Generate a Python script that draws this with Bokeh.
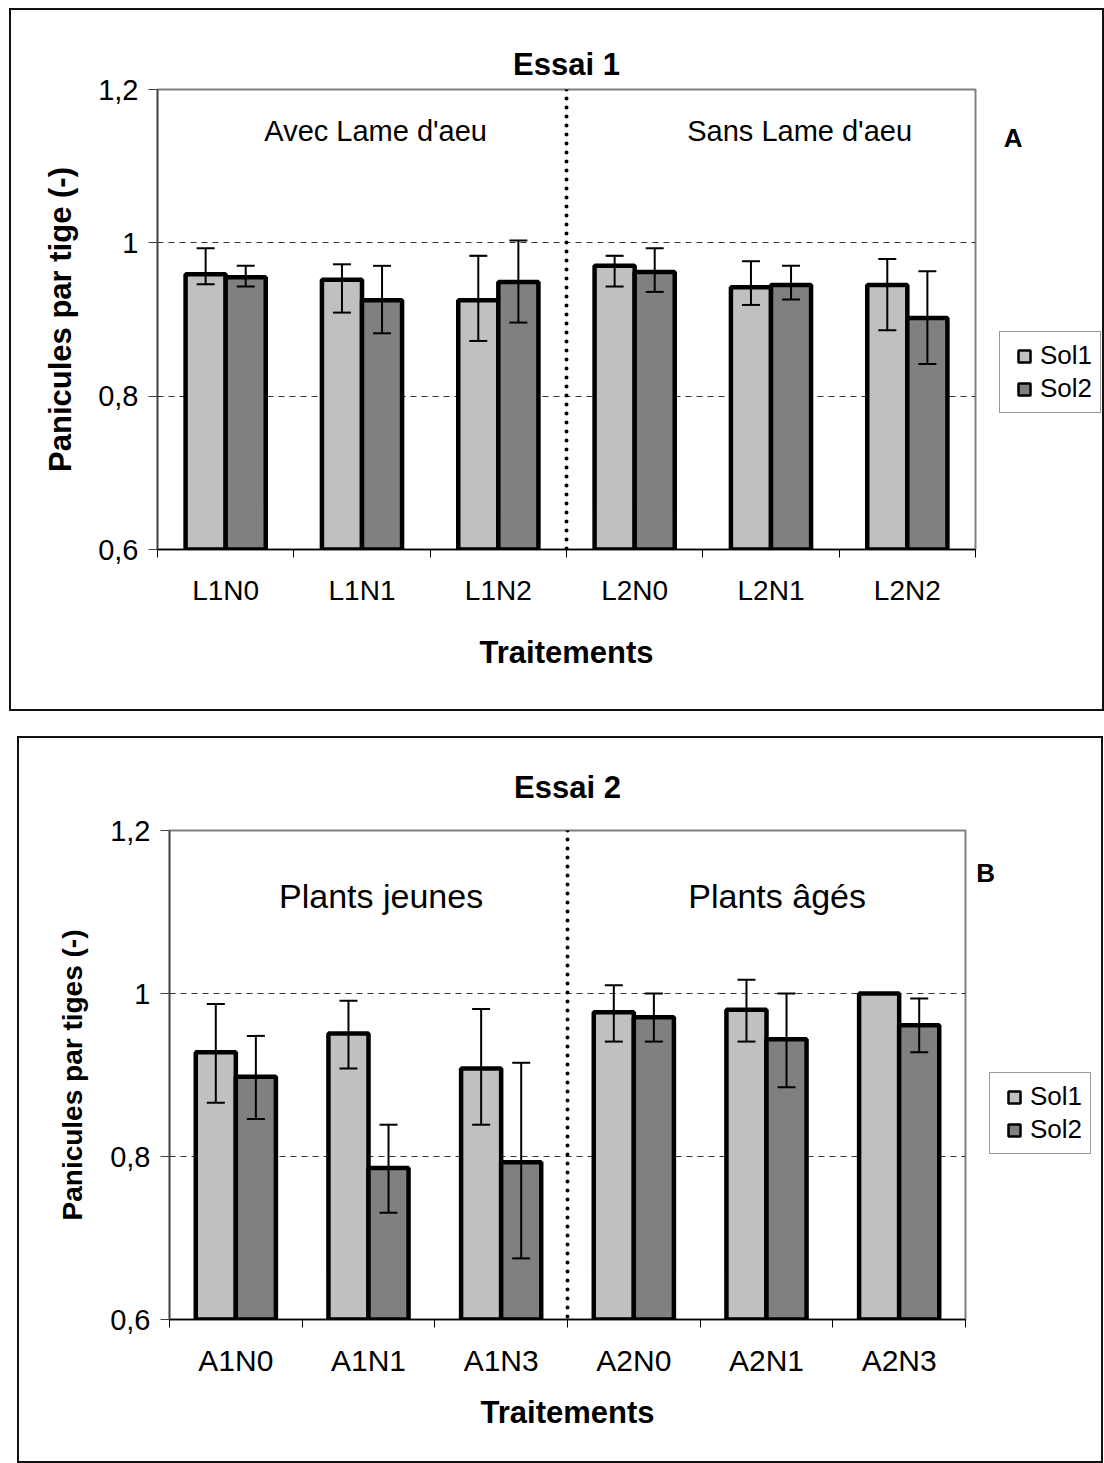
from bokeh.plotting import figure
from bokeh.models import (Range1d, FixedTicker, Whisker, TeeHead, ColumnDataSource,
                          Span, Label, Legend, LegendItem)
from bokeh.layouts import column, row
from bokeh.embed import file_html
from bokeh.resources import INLINE

FONT = "Liberation Sans"

# ---------------- data ----------------
y_ticks = [0.6, 0.8, 1.0, 1.2]
y_tick_labels = ["0,6", "0,8", "1", "1,2"]
series_names = ["Sol1", "Sol2"]

cats_A = ["L1N0", "L1N1", "L1N2", "L2N0", "L2N1", "L2N2"]
sol1_A = [0.959, 0.952, 0.925, 0.970, 0.942, 0.945]
sol1_A_hi = [0.993, 0.972, 0.983, 0.983, 0.976, 0.979]
sol1_A_lo = [0.946, 0.909, 0.872, 0.943, 0.919, 0.886]
sol2_A = [0.955, 0.925, 0.949, 0.962, 0.945, 0.902]
sol2_A_hi = [0.970, 0.970, 1.003, 0.993, 0.970, 0.963]
sol2_A_lo = [0.943, 0.882, 0.896, 0.936, 0.926, 0.842]

cats_B = ["A1N0", "A1N1", "A1N3", "A2N0", "A2N1", "A2N3"]
sol1_B = [0.928, 0.951, 0.908, 0.977, 0.980, 1.000]
sol1_B_hi = [0.987, 0.991, 0.981, 1.010, 1.017, None]
sol1_B_lo = [0.866, 0.908, 0.839, 0.941, 0.941, None]
sol2_B = [0.898, 0.786, 0.793, 0.971, 0.944, 0.961]
sol2_B_hi = [0.948, 0.839, 0.915, 1.000, 1.000, 0.994]
sol2_B_lo = [0.846, 0.731, 0.675, 0.941, 0.885, 0.928]

COL1 = "#C0C0C0"
COL2 = "#808080"
BORDER = "2px solid #111111"


def whisker_source(xs, hi, lo):
    keep = [i for i in range(len(xs)) if hi[i] is not None and lo[i] is not None]
    return ColumnDataSource(dict(x=[xs[i] for i in keep],
                                 hi=[hi[i] for i in keep],
                                 lo=[lo[i] for i in keep]))


def make_main(cats, s1, s1hi, s1lo, s2, s2hi, s2lo, title, ylabel,
              group_labels, group_font, width, height, borders, bar_w, st, styles):
    n = len(cats)
    p = figure(width=width, height=height, output_backend="svg",
               toolbar_location=None,
               x_range=Range1d(0, n), y_range=Range1d(y_ticks[0], y_ticks[-1]),
               min_border_left=borders[0], min_border_right=borders[1],
               min_border_top=borders[2], min_border_bottom=borders[3])
    p.styles = styles
    p.background_fill_color = "white"
    p.border_fill_color = "white"
    p.outline_line_color = "#808080"
    p.outline_line_width = 2

    p.title.text = title
    p.title.align = "center"
    p.title.text_font = FONT
    p.title.text_font_size = "31px"
    p.title.text_font_style = "bold"
    p.title.text_color = "black"
    p.title.standoff = st["title"]

    yax = p.yaxis[0]
    yax.ticker = FixedTicker(ticks=y_ticks)
    yax.major_label_overrides = {t: l for t, l in zip(y_ticks, y_tick_labels)}
    yax.major_label_text_font = FONT
    yax.major_label_text_font_size = "29px"
    yax.major_label_text_color = "black"
    yax.major_tick_out = 9
    yax.major_tick_in = 0
    yax.minor_tick_line_color = None
    yax.major_label_standoff = 10
    yax.axis_line_color = "#404040"
    yax.axis_line_width = 1.5
    yax.major_tick_line_color = "#404040"
    yax.axis_label = ylabel
    yax.axis_label_text_font = FONT
    yax.axis_label_text_font_size = st["ylabel_size"]
    yax.axis_label_text_font_style = "bold"
    yax.axis_label_text_color = "black"
    yax.axis_label_standoff = st["ylabel"]

    centers = [i + 0.5 for i in range(n)]
    xax = p.xaxis[0]
    xax.ticker = FixedTicker(ticks=centers, minor_ticks=list(range(n + 1)))
    xax.major_label_overrides = {c: t for c, t in zip(centers, cats)}
    xax.major_label_text_font = FONT
    xax.major_label_text_font_size = st["xtick_size"]
    xax.major_label_text_color = "black"
    xax.major_tick_line_color = None
    xax.major_tick_out = 0
    xax.major_tick_in = 0
    xax.minor_tick_out = 8
    xax.minor_tick_in = 0
    xax.minor_tick_line_color = "black"
    xax.major_label_standoff = st["xtick"]
    xax.axis_line_color = "black"
    xax.axis_line_width = 1.5
    xax.axis_label = "Traitements"
    xax.axis_label_text_font = FONT
    xax.axis_label_text_font_size = "31px"
    xax.axis_label_text_font_style = "bold"
    xax.axis_label_text_color = "black"
    xax.axis_label_standoff = st["xlabel"]

    p.xgrid.grid_line_color = None
    p.ygrid.ticker = FixedTicker(ticks=y_ticks[1:-1])
    p.ygrid.grid_line_color = "#333333"
    p.ygrid.grid_line_dash = "6 5"
    p.ygrid.grid_line_width = 1

    x1 = [c - bar_w / 2 for c in centers]
    x2 = [c + bar_w / 2 for c in centers]
    p.vbar(x=x1, top=s1, bottom=y_ticks[0], width=bar_w, fill_color=COL1,
           line_color="black", line_width=4.5)
    p.vbar(x=x2, top=s2, bottom=y_ticks[0], width=bar_w, fill_color=COL2,
           line_color="black", line_width=4.5)

    for xs, hi, lo in ((x1, s1hi, s1lo), (x2, s2hi, s2lo)):
        w = Whisker(base="x", upper="hi", lower="lo", source=whisker_source(xs, hi, lo),
                    line_color="black", line_width=2, level="overlay",
                    upper_head=TeeHead(size=18, line_width=2, line_color="black"),
                    lower_head=TeeHead(size=18, line_width=2, line_color="black"))
        p.add_layout(w)

    p.add_layout(Span(location=n / 2, dimension="height", line_color="black",
                      line_width=4, line_dash="0 9", line_cap="round", level="overlay"))

    for (gx, gy, txt) in group_labels:
        p.add_layout(Label(x=gx, y=gy, text=txt, text_align="center",
                           text_baseline="middle", text_font=FONT,
                           text_font_size=group_font, text_color="black"))
    return p


def make_side(width, height, inner_w, letter_xy, letter, legend_xy, styles):
    # the frame of this figure is aligned with the main figure's frame,
    # so its y range is the same value range
    s = figure(width=width, height=height, output_backend="svg",
               toolbar_location=None, x_axis_type=None, y_axis_type=None,
               title=None,
               x_range=Range1d(0, inner_w), y_range=Range1d(y_ticks[0], y_ticks[-1]),
               min_border=0, min_border_left=0, min_border_right=0,
               min_border_top=0, min_border_bottom=0)
    s.styles = styles
    s.outline_line_color = None
    s.background_fill_color = "white"
    s.border_fill_color = "white"
    s.xgrid.grid_line_color = None
    s.ygrid.grid_line_color = None
    s.add_layout(Label(x=letter_xy[0], y=letter_xy[1], text=letter,
                       text_align="center", text_baseline="middle",
                       text_font=FONT, text_font_size="26px",
                       text_font_style="bold", text_color="black"))
    # legend proxies: zero-size markers, only their legend glyphs are seen
    r1 = s.scatter(x=[0], y=[y_ticks[0]], marker="square", size=0,
                   fill_color=COL1, line_color="black", line_width=2.5)
    r2 = s.scatter(x=[0], y=[y_ticks[0]], marker="square", size=0,
                   fill_color=COL2, line_color="black", line_width=2.5)
    leg = Legend(items=[LegendItem(label=series_names[0], renderers=[r1]),
                        LegendItem(label=series_names[1], renderers=[r2])],
                 location=legend_xy, orientation="vertical",
                 label_text_font=FONT, label_text_font_size="26px",
                 label_text_color="black",
                 glyph_width=32, glyph_height=30, label_height=26,
                 label_standoff=0, spacing=2, padding=8, margin=0,
                 border_line_color="#333333", border_line_width=1,
                 background_fill_color="white", background_fill_alpha=1)
    s.add_layout(leg, "center")
    return s


# ---------- panel A ----------
mainA = make_main(cats_A, sol1_A, sol1_A_hi, sol1_A_lo, sol2_A, sol2_A_hi, sol2_A_lo,
                  "Essai 1", "Panicules par tige (-)",
                  [(1.60, 1.146, "Avec Lame d'aeu"), (4.71, 1.146, "Sans Lame d'aeu")],
                  "29px", width=969, height=703, borders=(146, 5, 79, 164), bar_w=0.294,
                  st=dict(title=15, ylabel=17, ylabel_size="31px", xtick=17,
                          xlabel=26, xtick_size="28px"),
                  styles={"border-left": BORDER, "border-top": BORDER,
                          "border-bottom": BORDER, "margin-left": "9px",
                          "margin-top": "8px"})
sideA = make_side(126, 703, 124, (34, 1.137), "A", (21, 136),
                  styles={"border-right": BORDER, "border-top": BORDER,
                          "border-bottom": BORDER, "margin-top": "8px"})

# ---------- panel B ----------
mainB = make_main(cats_B, sol1_B, sol1_B_hi, sol1_B_lo, sol2_B, sol2_B_hi, sol2_B_lo,
                  "Essai 2", "Panicules par tiges (-)",
                  [(1.595, 1.12, "Plants jeunes"), (4.58, 1.12, "Plants âgés")],
                  "34px", width=951, height=727, borders=(150, 5, 92, 146), bar_w=0.302,
                  st=dict(title=51, ylabel=19, ylabel_size="28px", xtick=16,
                          xlabel=15, xtick_size="30px"),
                  styles={"border-left": BORDER, "border-top": BORDER,
                          "border-bottom": BORDER, "margin-left": "17px"})
sideB = make_side(135, 727, 133, (17, 1.148), "B", (21, 165),
                  styles={"border-right": BORDER, "border-top": BORDER,
                          "border-bottom": BORDER})

layout = column(row(mainA, sideA, spacing=0), row(mainB, sideB, spacing=0), spacing=25)
open("out.html", "w").write(file_html(layout, INLINE))
